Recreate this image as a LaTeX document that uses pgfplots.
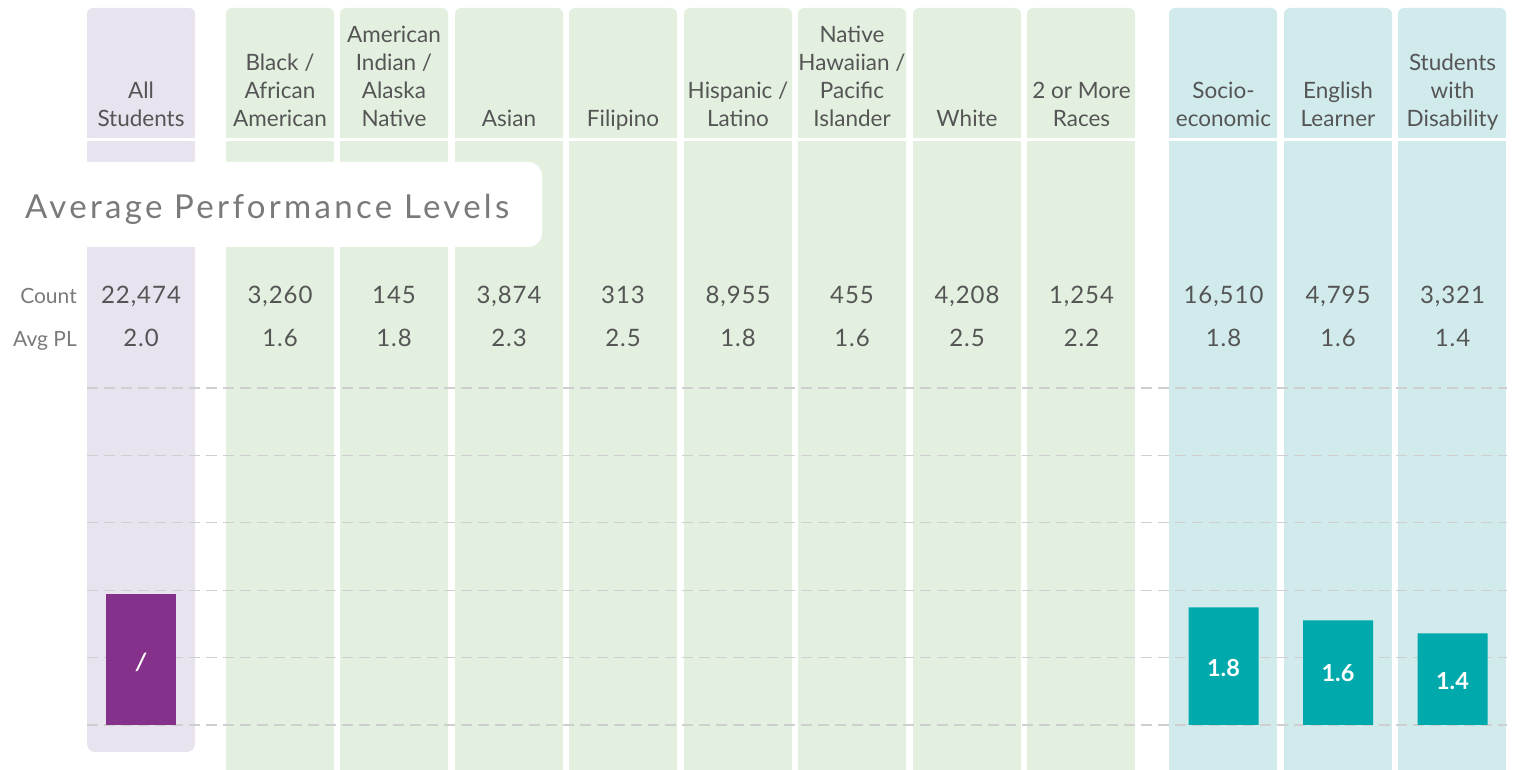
\documentclass[border=0pt]{standalone}
\usepackage{pgfplots}
\pgfplotsset{compat=1.18}
\usepackage{fontspec}
\setmainfont{Lato}
\definecolor{purpleL}{HTML}{E9E3EF}
\definecolor{greenL}{HTML}{E3F0E0}
\definecolor{tealL}{HTML}{D1EBEC}
\definecolor{purpleB}{HTML}{85308B}
\definecolor{tealB}{HTML}{00A9AB}
\definecolor{txt}{HTML}{555555}
\definecolor{ttl}{HTML}{7A7A7A}
\definecolor{gridc}{HTML}{CFCFCF}
\begin{document}
\begin{tikzpicture}
\useasboundingbox (0pt,0pt) rectangle (1515pt,770pt);
\begin{scope}[x=1pt,y=-1pt,shift={(0pt,770pt)}]
% column bands
\foreach \l/\c in {87/purpleL,226/greenL,340/greenL,455/greenL,569/greenL,684/greenL,798/greenL,913/greenL,1027/greenL,1169/tealL,1284/tealL,1398/tealL}{
  \fill[\c, rounded corners=6pt] (\l,8) rectangle ++(108,130);
  \fill[\c] (\l,20) rectangle ++(108,118);
}
\foreach \l/\c in {226/greenL,340/greenL,455/greenL,569/greenL,684/greenL,798/greenL,913/greenL,1027/greenL,1169/tealL,1284/tealL,1398/tealL}{
  \fill[\c] (\l,141) rectangle ++(108,640);
}
\fill[purpleL] (87,141) rectangle (195,740);
\fill[purpleL, rounded corners=8pt] (87,141) rectangle (195,752);
% title box
\fill[white, rounded corners=14pt] (-40,162) rectangle (542,247);
\node[anchor=base west, inner sep=0pt, text=ttl, font=\fontsize{33}{36}\selectfont\addfontfeature{LetterSpace=10}] at (25,219) {Average Performance Levels};
% headers
\begin{scope}[every node/.style={anchor=base, inner sep=0pt, text=txt, font=\fontsize{22.5}{27}\selectfont}]
\node at (141,99) {All}; \node at (141,127) {Students};
\node at (280,71) {Black /}; \node at (280,99) {African}; \node at (280,127) {American};
\node at (394,43) {American}; \node at (394,71) {Indian /}; \node at (394,99) {Alaska}; \node at (394,127) {Native};
\node at (509,127) {Asian};
\node at (623,127) {Filipino};
\node at (738,99) {Hispanic /}; \node at (738,127) {Latino};
\node at (852,43) {Native}; \node at (852,71) {Hawaiian /}; \node at (852,99) {Pacific}; \node at (852,127) {Islander};
\node at (967,127) {White};
\node at (1081.5,99) {2 or More}; \node at (1081.5,127) {Races};
\node at (1223.5,99) {Socio-}; \node at (1223.5,127) {economic};
\node at (1338,99) {English}; \node at (1338,127) {Learner};
\node at (1452.5,71) {Students}; \node at (1452.5,99) {with}; \node at (1452.5,127) {Disability};
\end{scope}
\begin{scope}[every node/.style={anchor=base east, inner sep=0pt, text=ttl, font=\fontsize{21}{25}\selectfont}]
\node at (77,304) {Count};
\node at (77,347) {Avg PL};
\end{scope}
\begin{scope}[every node/.style={anchor=base, inner sep=0pt, text=txt, font=\fontsize{24}{28}\selectfont\addfontfeature{LetterSpace=4}}]
\foreach \x/\n/\a in {141/{22,474}/2.0, 280/{3,260}/1.6, 394/145/1.8, 509/{3,874}/2.3, 623/313/2.5, 738/{8,955}/1.8, 852/455/1.6, 967/{4,208}/2.5, 1081.5/{1,254}/2.2, 1223.5/{16,510}/1.8, 1338/{4,795}/1.6, 1452.5/{3,321}/1.4}{
  \node at (\x,304) {\n};
  \node at (\x,347) {\a};
}
\end{scope}
\end{scope}
\begin{axis}[
  at={(87pt,0pt)}, anchor=south west,
  width=1420pt, height=628pt, scale only axis,
  xmin=-0.4716, xmax=11.930, ymin=-0.688, ymax=8.914,
  axis line style={draw=none}, tick style={draw=none},
  xtick=\empty,
  ytick={0,1.0306,2.0612,3.0918,4.1224,5.153},
  yticklabels={,,,,,},
  ymajorgrids,
  major grid style={draw=gridc, line width=1.2pt, dash pattern=on 11pt off 6pt},
]
\addplot[ybar, bar width=70pt, bar shift=0pt, fill=purpleB, draw=none] coordinates {(0,2.0)};
\addplot[ybar, bar width=70pt, bar shift=0pt, fill=tealB, draw=none] coordinates {(9.454,1.8) (10.454,1.6) (11.454,1.4)};
\addplot[draw=none, mark=none, nodes near coords, point meta=explicit symbolic,
  every node near coord/.style={anchor=center, text=white, font=\bfseries\fontsize{23.5}{27}\selectfont}]
  coordinates {(9.454,0.87)[1.8] (10.454,0.795)[1.6] (11.454,0.675)[1.4]};
\addplot[draw=none, mark=none, nodes near coords, point meta=explicit symbolic,
  every node near coord/.style={anchor=center, text=white, font=\bfseries\itshape\fontsize{24}{28}\selectfont}]
  coordinates {(0.0,0.96)[/]};
\end{axis}
\end{tikzpicture}
\end{document}
